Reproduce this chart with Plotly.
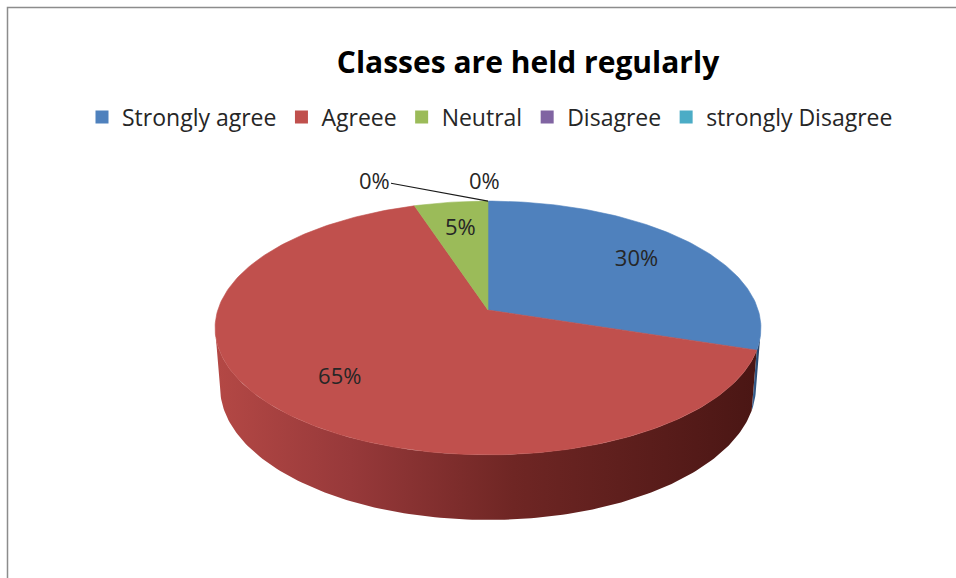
import math
import plotly.graph_objects as go

# ---- data ----
categories = ["Strongly agree", "Agreee", "Neutral", "Disagree", "strongly Disagree"]
values = [30, 65, 5, 0, 0]
label_texts = ["30%", "65%", "5%", "0%", "0%"]
title_text = "Classes are held regularly"

# ---- style ----
top_colors = ["#4F81BD", "#C0504D", "#9BBB59", "#8064A2", "#4BACC6"]
side_scales = [
    [[0, "#3d6a9e"], [1, "#1f3a5c"]],
    [[0, "#b44845"], [0.25, "#97393a"], [0.55, "#6f2624"], [1, "#4a1614"]],
    [[0, "#82a04a"], [1, "#4c5f2a"]],
    [[0, "#6a5288"], [1, "#3c2d52"]],
    [[0, "#3f92a8"], [1, "#22586a"]],
]
W_PX, H_PX = 956, 578
FONT = "Open Sans, Noto Sans, sans-serif"
TXT = "#262626"

# projection of a tilted 3D disc (perspective), pixel space
CX, CY = 488.0, 310.0
ELEV = math.radians(27.4)
DIST, FOC, DEPTH = 6.27, 1694.0, 0.249


def proj(t_deg, r, y):
    t = math.radians(t_deg)
    X = r * math.sin(t)
    Wb = r * math.cos(t)
    yc = y * math.cos(ELEV) + Wb * math.sin(ELEV)
    d = -y * math.sin(ELEV) + Wb * math.cos(ELEV)
    return CX + FOC * X / (DIST + d), CY - FOC * yc / (DIST + d)


def arc(a0, a1, r, y):
    n = max(2, int(abs(a1 - a0)) + 2)
    pts = [proj(a0 + (a1 - a0) * i / (n - 1), r, y) for i in range(n)]
    return [p[0] for p in pts], [p[1] for p in pts]


total = sum(values)
angles = []
acc = 0.0
for v in values:
    a0 = acc / total * 360
    acc += v
    a1 = acc / total * 360
    angles.append((a0, a1))

# visible front rim limits
t_vis = math.degrees(math.acos(-math.cos(ELEV) / DIST))
vis_lo, vis_hi = t_vis, 360 - t_vis

fig = go.Figure()

# rim sides
for i, (a0, a1) in enumerate(angles):
    s, e = max(a0, vis_lo), min(a1, vis_hi)
    if e <= s:
        continue
    xt, yt = arc(s, e, 1.0, 0.0)
    xb, yb = arc(e, s, 1.0, -DEPTH)
    fig.add_trace(go.Scatter(
        x=xt + xb + [xt[0]], y=yt + yb + [yt[0]], mode="lines",
        fill="toself", line=dict(width=0, color=side_scales[i][-1][1]),
        fillgradient=dict(type="horizontal", colorscale=side_scales[i]),
        showlegend=False, hoverinfo="skip"))

# top faces
for i, (a0, a1) in enumerate(angles):
    if a1 <= a0:
        continue
    xa, ya = arc(a0, a1, 1.0, 0.0)
    x0, y0 = proj(0, 0, 0)
    fig.add_trace(go.Scatter(
        x=[x0] + xa + [x0], y=[y0] + ya + [y0], mode="lines",
        fill="toself", fillcolor=top_colors[i],
        line=dict(width=0.6, color=top_colors[i]),
        showlegend=False, hoverinfo="skip"))

# labels inside non-zero slices
lx, ly, lt = [], [], []
zero_idx = []
for i, (a0, a1) in enumerate(angles):
    if values[i] == 0:
        zero_idx.append(i)
        continue
    px, py = proj((a0 + a1) / 2, 0.72, 0.0)
    lx.append(px)
    ly.append(py)
    lt.append(label_texts[i])
fig.add_trace(go.Scatter(x=lx, y=ly, mode="text", text=lt,
                         textfont=dict(size=22, color=TXT, family=FONT),
                         showlegend=False, hoverinfo="skip"))

# zero-valued slices: outside labels with leader line
for k, i in enumerate(zero_idx):
    px, py = proj(angles[i][0], 1.0, 0.0)
    if k == 0:
        fig.add_annotation(x=px, y=py, text=label_texts[i], showarrow=True,
                           arrowhead=0, arrowwidth=1.2, arrowcolor="#1a1a1a",
                           ax=-114, ay=-21,
                           font=dict(size=22, color=TXT, family=FONT))
    else:
        fig.add_annotation(x=px, y=py, text=label_texts[i], showarrow=False,
                           yshift=21, xshift=-4,
                           font=dict(size=22, color=TXT, family=FONT))

# legend entries
for i, c in enumerate(categories):
    fig.add_trace(go.Scatter(x=[None], y=[None], mode="markers", name=c,
                             marker=dict(symbol="square", size=13, color=top_colors[i])))

# chart border
fig.add_shape(type="rect", xref="paper", yref="paper",
              x0=7.5 / W_PX, x1=1.05, y0=-0.05, y1=1 - 7.5 / H_PX,
              line=dict(color="#8c8c8c", width=1.5))

fig.update_layout(
    width=W_PX, height=H_PX,
    margin=dict(l=0, r=0, t=0, b=0),
    paper_bgcolor="white", plot_bgcolor="white",
    title=dict(text="<b>" + title_text + "</b>", x=528 / W_PX, y=1 - 62 / H_PX,
               xanchor="center", yanchor="middle",
               font=dict(size=30, color="#000000", family=FONT)),
    legend=dict(orientation="h", x=490 / W_PX, y=1 - 117 / H_PX,
                xanchor="center", yanchor="middle",
                font=dict(size=23, color=TXT, family=FONT),
                itemwidth=30, traceorder="normal"),
    xaxis=dict(range=[0, W_PX], visible=False, fixedrange=True),
    yaxis=dict(range=[H_PX, 0], visible=False, fixedrange=True),
)

fig.write_html("out.html", config={"displayModeBar": False},
               post_script="document.body.style.margin='0';document.body.style.overflow='hidden';")
